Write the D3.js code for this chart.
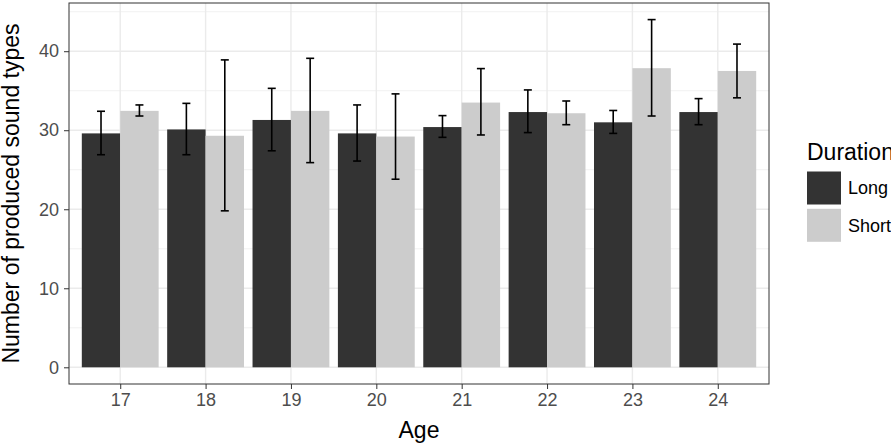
<!DOCTYPE html>
<html>
<head>
<meta charset="utf-8">
<script src="https://cdn.jsdelivr.net/npm/d3@7"></script>
<style>
    body { margin: 0; background: #fff; }
    svg { display: block; font-family: "Liberation Sans", Arial, sans-serif; }
</style>
</head>
<body>
<div id="chart"></div>
<script>
(function () {
    "use strict";

    var ages = ["17", "18", "19", "20", "21", "22", "23", "24"];
    var durations = ["Long", "Short"];
    var longMean = [29.6, 30.1, 31.3, 29.6, 30.4, 32.3, 31.0, 32.3];
    var longLow = [26.9, 26.9, 27.4, 26.1, 29.1, 29.7, 29.6, 30.7];
    var longHigh = [32.4, 33.4, 35.3, 33.2, 31.85, 35.1, 32.5, 34.0];
    var shortMean = [32.45, 29.3, 32.45, 29.2, 33.5, 32.15, 37.85, 37.5];
    var shortLow = [31.8, 19.8, 25.9, 23.8, 29.4, 30.7, 31.8, 34.1];
    var shortHigh = [33.2, 38.9, 39.1, 34.6, 37.8, 33.7, 44.0, 40.9];
    var yTicks = [0, 10, 20, 30, 40];
    var yMinor = [5, 15, 25, 35, 45];

    var config = {
        width: 891,
        height: 443,
        panel: { left: 69, right: 769, top: 3, bottom: 384 },
        colors: { Long: "#333333", Short: "#cccccc" }
    };

    var rows = [];
    ages.forEach(function (a, i) {
        rows.push({ age: a, dur: "Long", mean: longMean[i], lo: longLow[i], hi: longHigh[i] });
        rows.push({ age: a, dur: "Short", mean: shortMean[i], lo: shortLow[i], hi: shortHigh[i] });
    });

    var p = config.panel;
    var svg = d3.select("#chart").append("svg")
        .attr("width", config.width)
        .attr("height", config.height);

    // ggplot-like discrete expansion: 0.6 units on each side
    var step = (p.right - p.left) / (ages.length - 1 + 1.2);
    var x = d3.scalePoint()
        .domain(ages)
        .range([p.left + 0.6 * step, p.right - 0.6 * step]);
    var groupW = step * 0.9;
    var xInner = d3.scaleBand()
        .domain(durations)
        .range([-groupW / 2, groupW / 2]);

    var y = d3.scaleLinear()
        .domain([0, 46.1])
        .range([367.3, p.top]);

    var grid = svg.append("g").attr("class", "grid");
    grid.selectAll(".minor").data(yMinor).enter().append("line")
        .attr("x1", p.left).attr("x2", p.right)
        .attr("y1", function (d) { return y(d); })
        .attr("y2", function (d) { return y(d); })
        .attr("stroke", "#ebebeb").attr("stroke-width", 0.7);
    grid.selectAll(".major").data(yTicks).enter().append("line")
        .attr("x1", p.left).attr("x2", p.right)
        .attr("y1", function (d) { return y(d); })
        .attr("y2", function (d) { return y(d); })
        .attr("stroke", "#ebebeb").attr("stroke-width", 1.4);
    grid.selectAll(".vmajor").data(ages).enter().append("line")
        .attr("y1", p.top).attr("y2", p.bottom)
        .attr("x1", function (d) { return x(d); })
        .attr("x2", function (d) { return x(d); })
        .attr("stroke", "#ebebeb").attr("stroke-width", 1.4);

    svg.append("g").selectAll("rect").data(rows).enter().append("rect")
        .attr("x", function (d) { return x(d.age) + xInner(d.dur); })
        .attr("width", xInner.bandwidth())
        .attr("y", function (d) { return y(d.mean); })
        .attr("height", function (d) { return y(0) - y(d.mean); })
        .attr("fill", function (d) { return config.colors[d.dur]; });

    var capW = 8;
    var eb = svg.append("g").selectAll("g").data(rows).enter().append("g")
        .attr("transform", function (d) {
            return "translate(" + (x(d.age) + xInner(d.dur) + xInner.bandwidth() / 2) + ",0)";
        })
        .attr("stroke", "#000").attr("stroke-width", 1.6);
    eb.append("line").attr("x1", 0).attr("x2", 0)
        .attr("y1", function (d) { return y(d.lo); })
        .attr("y2", function (d) { return y(d.hi); });
    eb.append("line").attr("x1", -capW / 2).attr("x2", capW / 2)
        .attr("y1", function (d) { return y(d.lo); })
        .attr("y2", function (d) { return y(d.lo); });
    eb.append("line").attr("x1", -capW / 2).attr("x2", capW / 2)
        .attr("y1", function (d) { return y(d.hi); })
        .attr("y2", function (d) { return y(d.hi); });

    svg.append("rect")
        .attr("x", p.left).attr("y", p.top)
        .attr("width", p.right - p.left).attr("height", p.bottom - p.top)
        .attr("fill", "none").attr("stroke", "#333333").attr("stroke-width", 1);

    var xAxis = d3.axisBottom(x).tickSize(5).tickPadding(6);
    var gx = svg.append("g")
        .attr("transform", "translate(0," + p.bottom + ")")
        .call(xAxis);
    gx.select(".domain").remove();
    gx.selectAll("line").attr("stroke", "#333333");
    gx.selectAll("text").attr("fill", "#4d4d4d").attr("font-size", 18).attr("dy", "0.6em");

    var yAxis = d3.axisLeft(y).tickValues(yTicks).tickSize(5).tickPadding(5);
    var gy = svg.append("g")
        .attr("transform", "translate(" + p.left + ",0)")
        .call(yAxis);
    gy.select(".domain").remove();
    gy.selectAll("line").attr("stroke", "#333333");
    gy.selectAll("text").attr("fill", "#4d4d4d").attr("font-size", 18);

    svg.append("text")
        .attr("x", (p.left + p.right) / 2).attr("y", 437.5)
        .attr("text-anchor", "middle").attr("font-size", 23).attr("fill", "#000")
        .text("Age");
    svg.append("text")
        .attr("transform", "translate(18.5," + ((p.top + p.bottom) / 2) + ") rotate(-90)")
        .attr("text-anchor", "middle").attr("font-size", 23).attr("fill", "#000")
        .text("Number of produced sound types");

    var legend = svg.append("g").attr("transform", "translate(807,0)");
    legend.append("text").attr("x", 0).attr("y", 160)
        .attr("font-size", 23).attr("fill", "#000").text("Duration");
    var items = legend.selectAll(".item").data(durations).enter().append("g")
        .attr("transform", function (d, i) { return "translate(0," + (171.5 + i * 37.3) + ")"; });
    items.append("rect").attr("width", 34).attr("height", 33)
        .attr("fill", function (d) { return config.colors[d]; });
    items.append("text").attr("x", 41).attr("y", 16.5).attr("dy", "0.35em")
        .attr("font-size", 18).attr("fill", "#000").text(function (d) { return d; });
})();
</script>
</body>
</html>
